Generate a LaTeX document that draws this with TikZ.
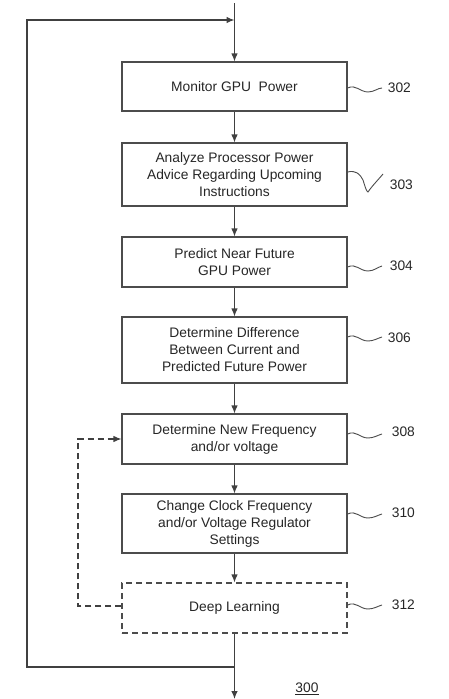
\documentclass[tikz,border=0pt]{standalone}
\usepackage{fontspec}
\setmainfont{Liberation Sans}
\usetikzlibrary{arrows.meta}
\begin{document}
\begin{tikzpicture}[x=1pt,y=-1pt,
  line width=1.1pt, draw=black!75,
  stepbox/.style={draw=black!70, line width=1.1pt, minimum width=225pt, align=center, inner sep=0pt, font=\fontsize{13.8}{17}\selectfont, text=black!85},
  arr/.style={-{Latex[length=8pt,width=6.5pt]}},
  lbl/.style={font=\fontsize{13.8}{16}\selectfont, text=black!85, anchor=west},
  sq/.style={line width=0.9pt, draw=black!70}]
\useasboundingbox (0,0) rectangle (449,699);
% boxes
\node[stepbox, minimum height=49pt] (b302) at (234.5,86.5) {Monitor GPU\ \ Power};
\node[stepbox, minimum height=63pt] (b303) at (234.5,174.5) {Analyze Processor Power\\Advice Regarding Upcoming\\Instructions};
\node[stepbox, minimum height=50pt] (b304) at (234.5,262) {Predict Near Future\\GPU Power};
\node[stepbox, minimum height=66pt] (b306) at (234.5,350) {Determine Difference\\Between Current and\\Predicted Future Power};
\node[stepbox, minimum height=50pt] (b308) at (234.5,439) {Determine New Frequency\\and/or voltage};
\node[stepbox, minimum height=59pt] (b310) at (234.5,523.5) {Change Clock Frequency\\and/or Voltage Regulator\\Settings};
\node[stepbox, minimum height=50pt, dashed, dash pattern=on 6pt off 4pt] (b312) at (234.5,608) {Deep Learning};
% coordinates
\coordinate (top) at (234.5,3);
\coordinate (join) at (234.5,20);
\coordinate (tl) at (27,20);
\coordinate (bl) at (27,667);
\coordinate (bj) at (234.5,667);
\coordinate (bot) at (234.5,699);
\coordinate (dl) at (78,606);
\coordinate (dt) at (78,439);
% main flow
\draw[arr] (top) -- (b302.north);
\draw[arr] (b302) -- (b303);
\draw[arr] (b303) -- (b304);
\draw[arr] (b304) -- (b306);
\draw[arr] (b306) -- (b308);
\draw[arr] (b308) -- (b310);
\draw[arr] (b310) -- (b312);
\draw (b312.south) -- (bj);
\draw[arr] (bj) -- (bot);
% outer loop
\draw[arr] (bj) -- (bl) -- (tl) -- (join);
% dashed loop
\draw[arr, dashed, dash pattern=on 6pt off 4pt] (b312.west |- dl) -- (dl) -- (dt) -- (b308.west);
% squiggles and labels
\draw[sq] (b302.east |- 0,88) .. controls (356,84) and (360,92) .. (368,92) .. controls (374,92) and (378,88) .. (382,88);
\node[lbl] (l302) at (384,88) {302};
\draw[sq] (b303.east |- 0,172) .. controls (356,170) and (360,174) .. (363,180) .. controls (365,186) and (366,191) .. (368,192) .. controls (372,186) and (378,180) .. (383,174);
\node[lbl] (l303) at (386,185) {303};
\draw[sq] (b304.east |- 0,267) .. controls (356,263) and (360,271) .. (368,271) .. controls (374,271) and (378,267) .. (382,266);
\node[lbl] (l304) at (386,266) {304};
\draw[sq] (b306.east |- 0,337) .. controls (356,333) and (360,341) .. (368,341) .. controls (374,341) and (378,338) .. (382,337);
\node[lbl] (l306) at (384,338) {306};
\draw[sq] (b308.east |- 0,434) .. controls (356,430) and (360,438) .. (368,438) .. controls (374,438) and (378,435) .. (382,434);
\node[lbl] (l308) at (388,432) {308};
\draw[sq] (b310.east |- 0,514) .. controls (356,510) and (360,518) .. (368,518) .. controls (374,518) and (378,515) .. (382,514);
\node[lbl] (l310) at (388,513) {310};
\draw[sq] (b312.east |- 0,605) .. controls (356,601) and (360,609) .. (368,609) .. controls (374,609) and (378,606) .. (382,605);
\node[lbl] (l312) at (388,605) {312};
\node[lbl, anchor=center] (l300) at (307,689) {\underline{300}};
\end{tikzpicture}
\end{document}
